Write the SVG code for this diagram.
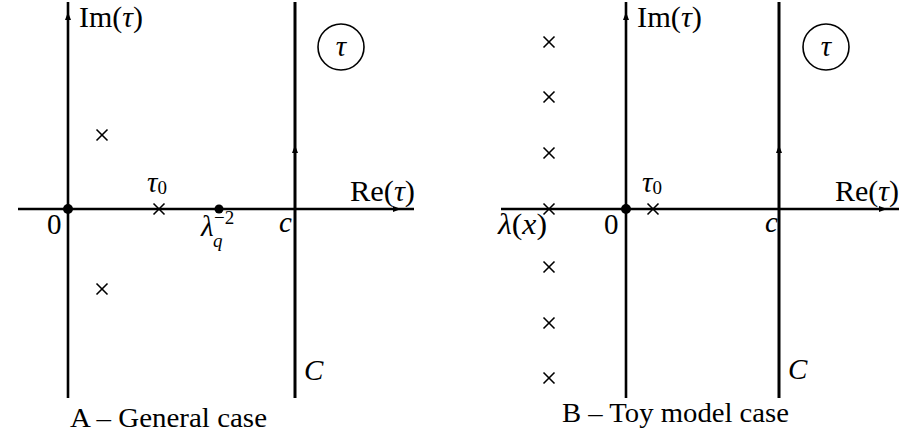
<svg xmlns="http://www.w3.org/2000/svg" width="908" height="434" viewBox="0 0 908 434">
<defs>
<style>
.ax{stroke:#000;stroke-width:2.6;fill:none}
.cl{stroke:#000;stroke-width:3;fill:none}
.x{stroke:#000;stroke-width:1.6;fill:none}
.ar{fill:#000}
text{font-family:"Liberation Serif","Times New Roman",serif;fill:#000}
.t{font-size:29px}
.i{font-style:italic}
.sub{font-size:19px}
.cap{font-size:27px}
</style>
<g id="cross"><line class="x" x1="-5.5" y1="-5.5" x2="5.5" y2="5.5"/><line class="x" x1="-5.5" y1="5.5" x2="5.5" y2="-5.5"/></g>
<path id="aup" class="ar" d="M0,-6 L3,2 L-3,2 Z"/>
<path id="art" class="ar" d="M6,0 L-2,3 L-2,-3 Z"/>
</defs>
<rect width="908" height="434" fill="#fff"/>

<g id="panelA">
  <g id="axesA">
    <line class="ax" x1="68" y1="2" x2="68" y2="398"/>
    <line class="ax" x1="18" y1="209" x2="414" y2="209"/>
    <use href="#aup" x="68" y="18"/>
    <use href="#art" x="395" y="209"/>
  </g>
  <g id="contourA">
    <line class="cl" x1="295" y1="2" x2="295" y2="398"/>
    <use href="#aup" x="295" y="151"/>
  </g>
  <g id="pointsA">
    <circle cx="68" cy="209" r="5"/>
    <circle cx="219" cy="209" r="4.5"/>
    <use href="#cross" x="102" y="135"/>
    <use href="#cross" x="102" y="289"/>
    <use href="#cross" x="159" y="209"/>
  </g>
  <g id="labelsA">
    <text class="t" x="79" y="27" textLength="64" lengthAdjust="spacingAndGlyphs">Im(<tspan class="i">τ</tspan>)</text>
    <text class="t" x="350" y="201" textLength="65" lengthAdjust="spacingAndGlyphs">Re(<tspan class="i">τ</tspan>)</text>
    <circle cx="341" cy="47" r="23" fill="none" stroke="#000" stroke-width="1.6"/>
    <text class="t i" x="341" y="56" text-anchor="middle">τ</text>
    <text class="t i" x="147" y="192">τ<tspan class="sub" font-style="normal" dy="2">0</tspan></text>
    <text class="t" x="47" y="234">0</text>
    <text class="t i" x="201" y="236">λ</text>
    <text class="sub i" x="213" y="247">q</text>
    <text class="sub" x="214" y="224">−2</text>
    <text class="t i" x="279" y="232">c</text>
    <text class="t i" x="304" y="380">C</text>
    <text class="cap" x="70" y="427" textLength="197" lengthAdjust="spacingAndGlyphs">A – General case</text>
  </g>
</g>

<g id="panelB">
  <g id="axesB">
    <line class="ax" x1="626" y1="2" x2="626" y2="398"/>
    <line class="ax" x1="501" y1="209" x2="899" y2="209"/>
    <use href="#aup" x="626" y="18"/>
    <use href="#art" x="881" y="209"/>
  </g>
  <g id="contourB">
    <line class="cl" x1="779" y1="2" x2="779" y2="398"/>
    <use href="#aup" x="779" y="151"/>
  </g>
  <g id="pointsB">
    <circle cx="626" cy="209" r="5"/>
    <use href="#cross" x="549" y="42"/>
    <use href="#cross" x="549" y="97"/>
    <use href="#cross" x="549" y="153"/>
    <use href="#cross" x="549" y="209"/>
    <use href="#cross" x="549" y="267"/>
    <use href="#cross" x="549" y="323"/>
    <use href="#cross" x="549" y="378"/>
    <use href="#cross" x="653" y="209"/>
  </g>
  <g id="labelsB">
    <text class="t" x="637" y="27" textLength="65" lengthAdjust="spacingAndGlyphs">Im(<tspan class="i">τ</tspan>)</text>
    <text class="t" x="835" y="201" textLength="64" lengthAdjust="spacingAndGlyphs">Re(<tspan class="i">τ</tspan>)</text>
    <circle cx="826" cy="47" r="23" fill="none" stroke="#000" stroke-width="1.6"/>
    <text class="t i" x="826" y="56" text-anchor="middle">τ</text>
    <text class="t i" x="642" y="192">τ<tspan class="sub" font-style="normal" dy="2">0</tspan></text>
    <text class="t" x="604" y="234">0</text>
    <text class="t" x="498" y="234" textLength="49" lengthAdjust="spacingAndGlyphs"><tspan class="i">λ</tspan>(<tspan class="i">x</tspan>)</text>
    <text class="t i" x="765" y="232">c</text>
    <text class="t i" x="788" y="379">C</text>
    <text class="cap" x="562" y="422" textLength="227" lengthAdjust="spacingAndGlyphs">B – Toy model case</text>
  </g>
</g>
</svg>
